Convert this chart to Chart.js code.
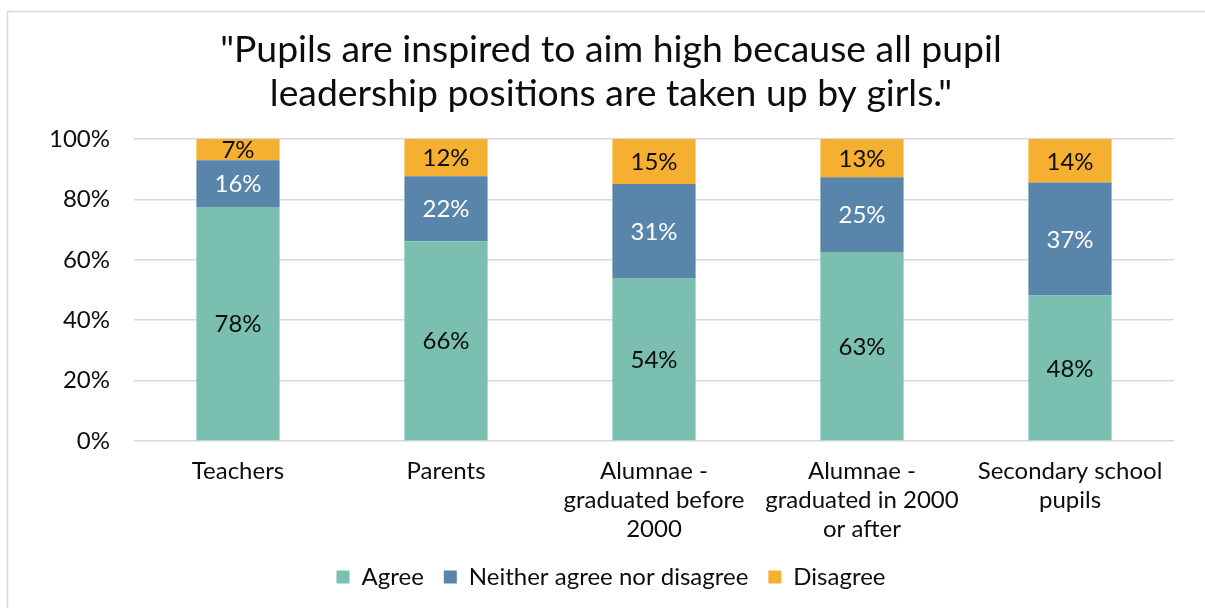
<!DOCTYPE html>
<html>
<head>
<meta charset="utf-8">
<script src="https://cdn.jsdelivr.net/npm/chart.js@4"></script>
<style>
  html, body { margin: 0; padding: 0; background: #fff; }
  #wrap { position: relative; width: 1205px; height: 608px; }
</style>
</head>
<body>
<div id="wrap"><canvas id="surveyChart" width="1205" height="608"></canvas></div>
<script>
// Data (percent of respondents)
const groups = [
    'Teachers',
    'Parents',
    ['Alumnae -', 'graduated before', '2000'],
    ['Alumnae -', 'graduated in 2000', 'or after'],
    ['Secondary school', 'pupils']
];
const agree = [77.5, 66.2, 54.0, 62.6, 48.2];
const neither = [15.5, 21.5, 31.1, 24.8, 37.4];
const disagree = [7.0, 12.3, 14.9, 12.6, 14.4];
const yTicks = [0, 20, 40, 60, 80, 100];

const FONT = 'Lato, "Open Sans", sans-serif';

// Light grey frame around the whole chart, like the office export
const framePlugin = {
    id: 'frame',
    beforeDraw(chart) {
        const ctx = chart.ctx;
        ctx.save();
        ctx.fillStyle = '#fff';
        ctx.fillRect(0, 0, chart.width, chart.height);
        ctx.strokeStyle = '#d9d9d9';
        ctx.lineWidth = 1.5;
        ctx.strokeRect(7.5, 11.5, chart.width + 10, chart.height + 10);
        ctx.restore();
    }
};

// Percent labels in the middle of each stacked segment
const segmentLabels = {
    id: 'segmentLabels',
    afterDatasetsDraw(chart) {
        const ctx = chart.ctx;
        ctx.save();
        ctx.font = '24px ' + FONT;
        ctx.textAlign = 'center';
        ctx.textBaseline = 'middle';
        chart.data.datasets.forEach((ds, i) => {
            const meta = chart.getDatasetMeta(i);
            meta.data.forEach((bar, j) => {
                ctx.fillStyle = ds.labelColor;
                ctx.fillText(Math.round(ds.data[j]) + '%', bar.x, (bar.y + bar.base) / 2 + 1);
            });
        });
        ctx.restore();
    }
};

const ctx = document.getElementById('surveyChart').getContext('2d');
new Chart(ctx, {
    type: 'bar',
    data: {
        labels: groups,
        datasets: [
            { label: 'Agree', data: agree, backgroundColor: '#7abfb0', labelColor: '#0d0d0d' },
            { label: 'Neither agree nor disagree', data: neither, backgroundColor: '#5a85aa', labelColor: '#ffffff' },
            { label: 'Disagree', data: disagree, backgroundColor: '#f6b031', labelColor: '#0d0d0d' }
        ]
    },
    options: {
        responsive: false,
        animation: false,
        datasets: {
            bar: { categoryPercentage: 1, barPercentage: 0.4, borderWidth: 0 }
        },
        layout: { padding: { left: 48, right: 31, top: 0, bottom: 9 } },
        plugins: {
            title: {
                display: true,
                text: ['"Pupils are inspired to aim high because all pupil', 'leadership positions are taken up by girls."'],
                color: '#0d0d0d',
                font: { family: FONT, size: 37.33, weight: 'normal', lineHeight: 1.18 },
                padding: { top: 28, bottom: 23 }
            },
            legend: {
                position: 'bottom',
                labels: {
                    color: '#0d0d0d',
                    font: { family: FONT, size: 24 },
                    boxWidth: 13,
                    boxHeight: 13,
                    padding: 20
                }
            },
            tooltip: { enabled: false }
        },
        scales: {
            x: {
                stacked: true,
                afterFit(scale) { scale.height = 104; },
                grid: { display: false, drawTicks: false },
                border: { display: false },
                ticks: {
                    color: '#0d0d0d',
                    font: { family: FONT, size: 24, lineHeight: 1.21 },
                    padding: 16,
                    maxRotation: 0,
                    autoSkip: false
                }
            },
            y: {
                stacked: true,
                min: 0,
                max: 100,
                afterBuildTicks(scale) {
                    scale.ticks = yTicks.map(v => ({ value: v }));
                },
                afterFit(scale) { scale.width = 86; },
                grid: { color: '#d9d9d9', lineWidth: 1.5, drawTicks: false },
                border: { display: false },
                ticks: {
                    color: '#0d0d0d',
                    font: { family: FONT, size: 24 },
                    padding: 24,
                    callback: v => v + '%'
                }
            }
        }
    },
    plugins: [framePlugin, segmentLabels]
});
</script>
</body>
</html>
